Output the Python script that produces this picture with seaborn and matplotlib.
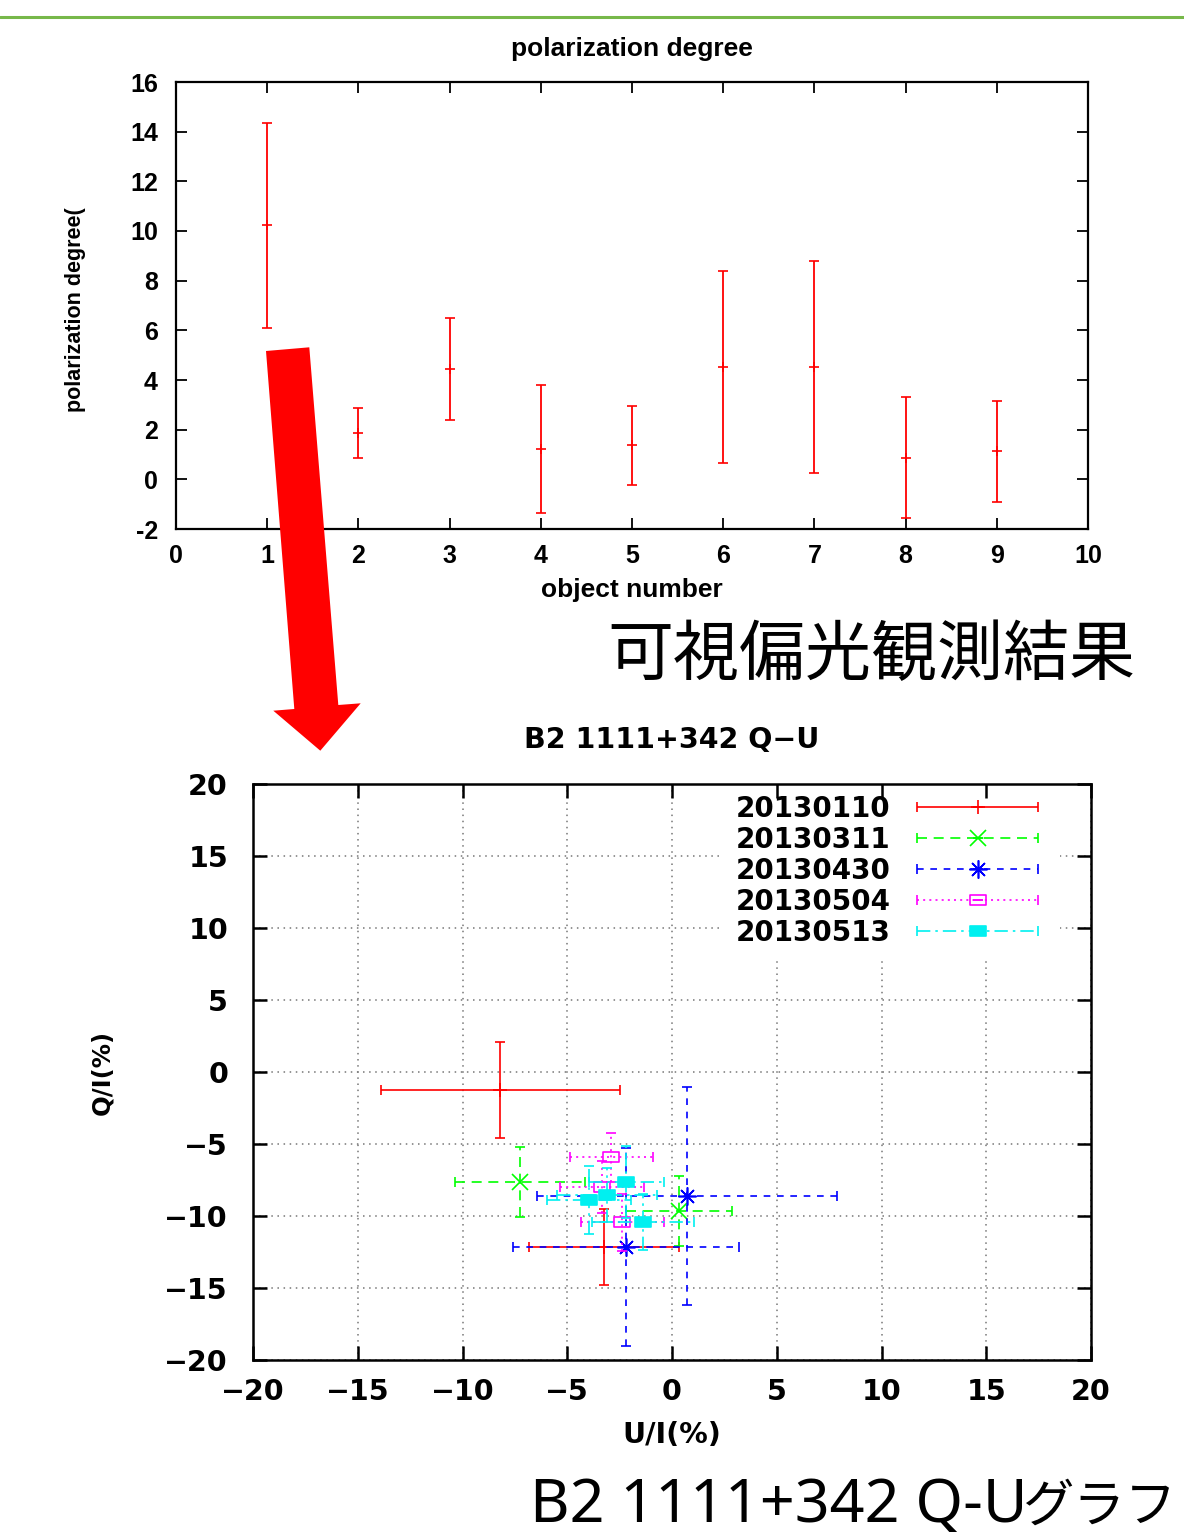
import numpy as np
import pandas as pd
import seaborn as sns
import matplotlib.pyplot as plt
from matplotlib.patches import Polygon, Rectangle
from matplotlib.lines import Line2D
from matplotlib.path import Path
from matplotlib.container import ErrorbarContainer
from matplotlib.legend_handler import HandlerErrorbar

# --- values ---
# upper panel: polarization degree of each object
object_number = [1, 2, 3, 4, 5, 6, 7, 8, 9]
pol_degree = [10.23, 1.87, 4.44, 1.23, 1.38, 4.52, 4.52, 0.87, 1.13]
pol_error = [4.12, 1.00, 2.07, 2.58, 1.59, 3.87, 4.27, 2.43, 2.03]
top_xticks = [0, 1, 2, 3, 4, 5, 6, 7, 8, 9, 10]
top_yticks = [-2, 0, 2, 4, 6, 8, 10, 12, 14, 16]

# lower panel: Q-U plane, one group of points per night
qu_dates = ['20130110', '20130311', '20130430', '20130504', '20130513']
u_vals = [[-8.19, -3.26], [-7.26, 0.33], [0.72, -2.20],
          [-2.90, -3.33, -2.37], [-2.18, -3.12, -3.95, -1.37]]
q_vals = [[-1.25, -12.18], [-7.66, -9.65], [-8.61, -12.15],
          [-5.93, -7.96, -10.44], [-7.66, -8.56, -8.91, -10.42]]
u_errs = [[5.70, 3.58], [3.10, 2.53], [7.15, 5.40],
          [1.97, 2.00, 1.97], [1.80, 2.39, 2.00, 2.43]]
q_errs = [[3.30, 2.64], [2.43, 2.43], [7.60, 6.90],
          [1.70, 1.80, 2.00], [2.50, 1.86, 2.35, 1.94]]
qu_ticks = [-20, -15, -10, -5, 0, 5, 10, 15, 20]

W, H = 1184, 1537

sns.set_theme(style="white")
plt.rcParams['font.family'] = ['DejaVu Sans']
plt.rcParams['axes.unicode_minus'] = True
plt.rcParams['text.color'] = 'black'
plt.rcParams['axes.labelcolor'] = 'black'

fig = plt.figure(figsize=(W / 100, H / 100), dpi=100)
fig.patch.set_facecolor('white')


def px_rect(l, t, r, b):
    return [l / W, 1 - b / H, (r - l) / W, (b - t) / H]


# --- upper panel ---
top_font = dict(family=['Liberation Sans'], weight='bold')
ax1 = fig.add_axes(px_rect(176, 82, 1088, 529))
ax1.set_facecolor('white')
ax1.errorbar(object_number, pol_degree, yerr=pol_error, fmt='+', color='red',
             ms=7, mew=1.2, elinewidth=1.3, capsize=3.5, capthick=1.3)
ax1.set_xlim(0, 10)
ax1.set_ylim(-2, 16)
ax1.set_xticks(top_xticks, labels=[str(t) for t in top_xticks], fontsize=18, **top_font)
ax1.set_yticks(top_yticks, labels=[str(t) for t in top_yticks], fontsize=18, **top_font)
ax1.tick_params(axis='x', direction='in', top=True, bottom=True, length=8, width=1.3,
                colors='black', pad=11)
ax1.tick_params(axis='y', direction='in', left=True, right=True, length=8, width=1.3,
                colors='black', pad=13)
for sp in ax1.spines.values():
    sp.set_linewidth(1.6)
    sp.set_color('black')
ax1.set_title('polarization degree', fontsize=19, pad=19, color='black', **top_font)
ax1.set_xlabel('object number', fontsize=19, **top_font)
ax1.xaxis.set_label_coords(0.5, -0.11)
ax1.set_ylabel('polarization degree(', fontsize=15.5, **top_font)
ax1.yaxis.set_label_coords(-0.099, 0.49)

# --- lower panel ---
# grid lives on a background axes so the legend box can blank it out
# while the ticks of the main axes stay visible
qu_rect = px_rect(253, 784, 1091, 1360)
ax_grid = fig.add_axes(qu_rect, zorder=0)
ax_grid.set_xlim(-20, 20)
ax_grid.set_ylim(-20, 20)
ax_grid.set_xticks(qu_ticks)
ax_grid.set_yticks(qu_ticks)
ax_grid.tick_params(length=0, labelbottom=False, labelleft=False)
ax_grid.grid(True, linestyle=(0, (1, 3)), color='#777777', linewidth=1.1)
for sp in ax_grid.spines.values():
    sp.set_visible(False)

wide_square = Path([(-1.45, -1), (1.45, -1), (1.45, 1), (-1.45, 1), (-1.45, -1)], closed=True)
series_style = [
    dict(color='#ff0000', marker='+', ms=10, mfc='#ff0000', ls='solid'),
    dict(color='#00ff00', marker='x', ms=11, mfc='#00ff00', ls=(0, (6, 4))),
    dict(color='#0000ff', marker=(8, 2, 0), ms=13, mfc='#0000ff', ls=(0, (4, 4))),
    dict(color='#ff00ff', marker=wide_square, ms=11, mfc='none', ls=(0, (1.2, 2.5))),
    dict(color='#00f0f0', marker=wide_square, ms=11, mfc='#00f0f0', ls=(0, (8, 3, 1.5, 3))),
]

ax2 = fig.add_axes(qu_rect, zorder=1)
ax2.set_facecolor('none')
handles = []
for i, date in enumerate(qu_dates):
    st = series_style[i]
    cont = ax2.errorbar(u_vals[i], q_vals[i], xerr=u_errs[i], yerr=q_errs[i],
                        linestyle='none', marker=st['marker'], ms=st['ms'],
                        color=st['color'], mec=st['color'], mfc=st['mfc'], mew=1.2,
                        elinewidth=1.2, capsize=3.5, capthick=1.2, zorder=3 + i)
    for coll in cont[2]:
        coll.set_linestyle(st['ls'])
    handles.append(cont)

ax2.set_xlim(-20, 20)
ax2.set_ylim(-20, 20)
tick_labels = [str(t).replace('-', '\u2212') for t in qu_ticks]
ax2.set_xticks(qu_ticks, labels=tick_labels, fontsize=20.5, fontweight='bold')
ax2.set_yticks(qu_ticks, labels=tick_labels, fontsize=20.5, fontweight='bold')
ax2.tick_params(axis='x', direction='in', top=True, bottom=True, length=10, width=1.8,
                colors='black', pad=13)
ax2.tick_params(axis='y', direction='in', left=True, right=True, length=10, width=1.8,
                colors='black', pad=18)
ax2.grid(False)
ax2.set_axisbelow(True)
for sp in ax2.spines.values():
    sp.set_linewidth(1.8)
    sp.set_color('black')
ax2.set_title('B2 1111+342 Q\u2212U', fontsize=20.5, fontweight='bold', pad=26, color='black')
ax2.set_xlabel('U/I(%)', fontsize=20.5, fontweight='bold')
ax2.xaxis.set_label_coords(0.5, -0.106)
ax2.set_ylabel('Q/I(%)', fontsize=17.5, fontweight='bold')
ax2.yaxis.set_label_coords(-0.165, 0.5)

leg = ax2.legend(handles, qu_dates, loc='upper right', bbox_to_anchor=(0.9368, 0.981),
                 borderaxespad=0, borderpad=0, markerfirst=False, numpoints=1,
                 handlelength=4.35, handletextpad=0.97, labelspacing=0.11,
                 frameon=False, prop=dict(family='DejaVu Sans', weight='bold', size=20),
                 handler_map={ErrorbarContainer: HandlerErrorbar(xerr_size=2.175, yerr_size=0)})
leg.set_zorder(0.3)
for txt in leg.get_texts():
    txt.set_color('black')

# white box behind the key, sized from the drawn legend
fig.canvas.draw()
bb = leg.get_window_extent().transformed(ax2.transAxes.inverted())
px_x = 1 / 838
px_y = 1 / 576
ax2.add_patch(Rectangle((bb.x0 - 12 * px_x, bb.y0 - 10 * px_y),
                        bb.width + 34 * px_x, bb.height + 16 * px_y,
                        transform=ax2.transAxes, facecolor='white',
                        edgecolor='none', zorder=0.2))

# --- slide decorations ---
fig.add_artist(Line2D([0, 1], [1 - 16.5 / H] * 2, transform=fig.transFigure,
                      color='#77b84a', lw=2.2))
arrow_px = [(266, 351), (309.3, 347.3), (338.3, 705), (360.7, 703.3),
            (320.3, 750.7), (273.3, 710.7), (294.3, 709)]
fig.add_artist(Polygon([(x / W, 1 - y / H) for x, y in arrow_px], closed=True,
                       transform=fig.transFigure, facecolor='#ff0000',
                       edgecolor='none', zorder=10))

fig.text(607 / W, 1 - 656 / H, '可視偏光観測結果', fontsize=47.5, color='black',
         family=['Noto Sans CJK JP'], ha='left', va='center')
fig.text(530 / W, 1 - 1522 / H, 'B2 1111+342 Q-U', fontsize=44, color='black',
         family=['Noto Sans', 'DejaVu Sans'], ha='left', va='baseline')
fig.text(1176 / W, 1 - 1522 / H, 'グラフ', fontsize=37, color='black',
         family=['Noto Sans CJK JP'], ha='right', va='baseline')

plt.savefig('out.png', dpi=100, facecolor='white')
